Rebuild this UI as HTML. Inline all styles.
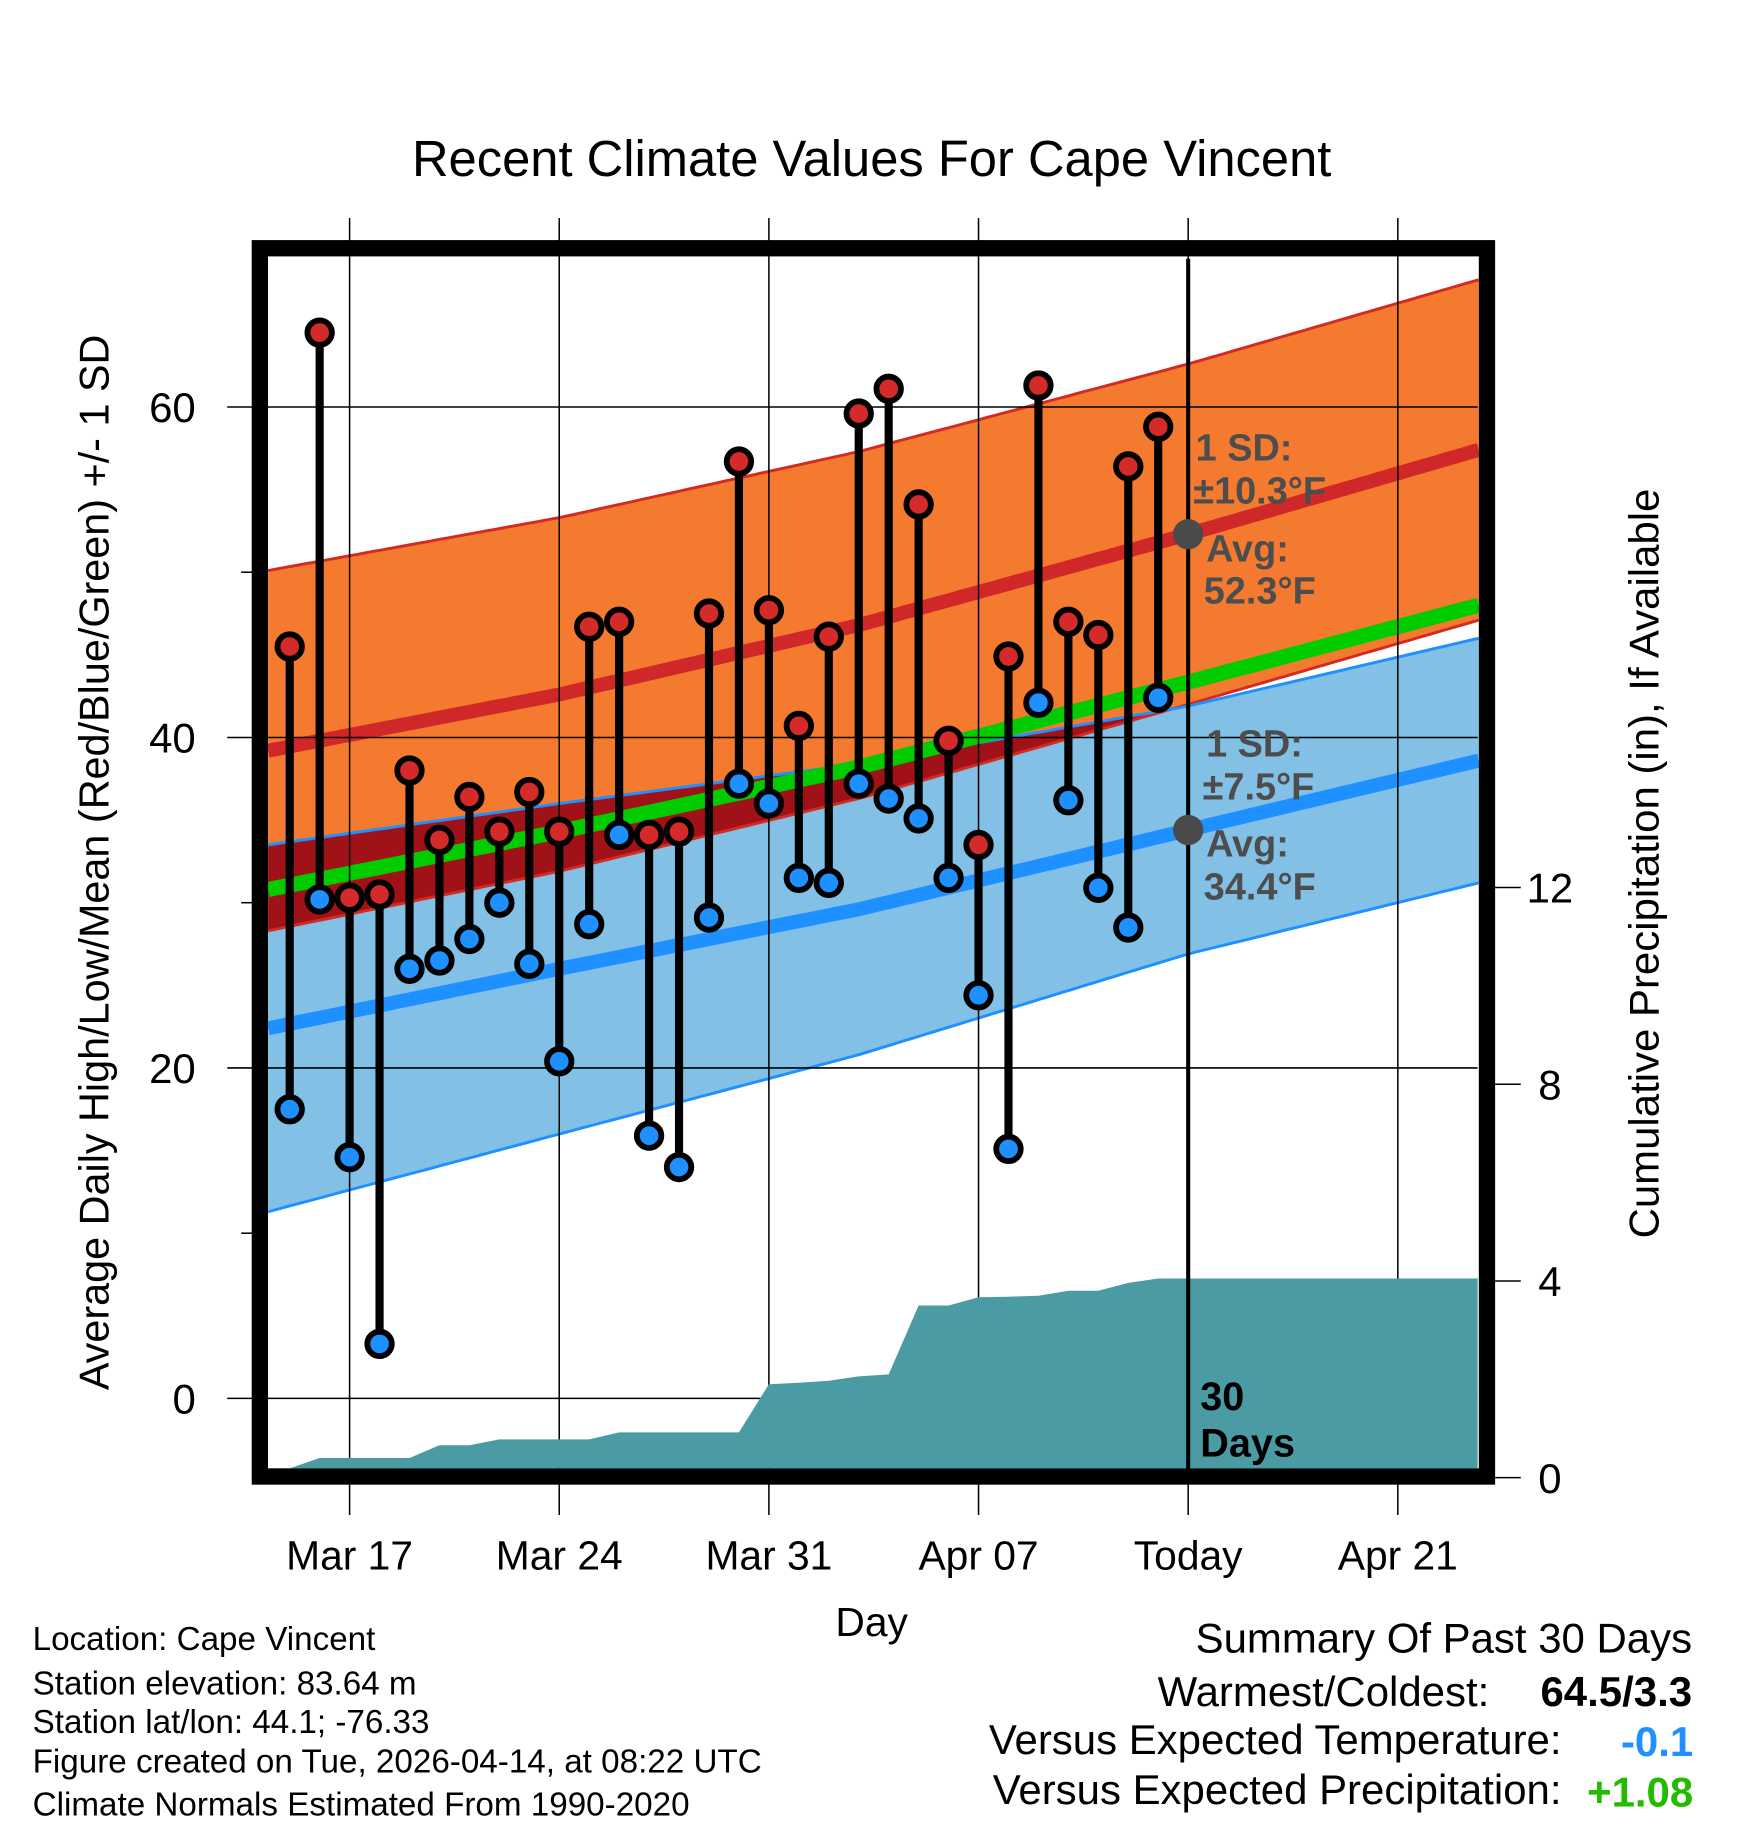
<!DOCTYPE html>
<html><head><meta charset="utf-8"><style>
html,body{margin:0;padding:0;background:#fff;}
svg{display:block;font-family:"Liberation Sans",Arial,sans-serif;}
</style></head><body>
<svg id="chart" width="1748" height="1828" viewBox="0 0 1500 1568.6" xmlns="http://www.w3.org/2000/svg">
<text x="748" y="151" font-size="43.5" text-anchor="middle">Recent Climate Values For Cape Vincent</text>
<g id="bands"></g>
<g id="grid"></g>
<g id="precip"></g>
<g id="series"></g>
<g id="frame"></g>
<text transform="translate(93,740) rotate(-90)" font-size="35.5" text-anchor="middle">Average Daily High/Low/Mean (Red/Blue/Green) +/- 1 SD</text>
<text transform="translate(1423,741) rotate(-90)" font-size="36" text-anchor="middle">Cumulative Precipitation (in), If Available</text>
<text x="748" y="1404" font-size="35" text-anchor="middle">Day</text>
<g font-size="28.5">
<text x="28" y="1416">Location: Cape Vincent</text>
<text x="28" y="1454">Station elevation: 83.64 m</text>
<text x="28" y="1487">Station lat/lon: 44.1; -76.33</text>
<text x="28" y="1521">Figure created on Tue, 2026-04-14, at 08:22 UTC</text>
<text x="28" y="1558">Climate Normals Estimated From 1990-2020</text>
</g>
<g font-size="36">
<text x="1452" y="1418" text-anchor="end">Summary Of Past 30 Days</text>
<text x="1278" y="1464" text-anchor="end">Warmest/Coldest:</text>
<text x="1452" y="1464" text-anchor="end" font-weight="bold">64.5/3.3</text>
<text x="1340" y="1505" text-anchor="end">Versus Expected Temperature:</text>
<text x="1453" y="1507" text-anchor="end" font-weight="bold" fill="#1e90ff">-0.1</text>
<text x="1340" y="1548" text-anchor="end">Versus Expected Precipitation:</text>
<text x="1453" y="1550" text-anchor="end" font-weight="bold" fill="#22bb00">+1.08</text>
</g>
</svg>
<script>
// ---- data ----
const dayLabels = ["Mar 17","Mar 24","Mar 31","Apr 07","Today","Apr 21"];
const dayTicks = [0,7,14,21,28,35];
const yTicks = [0,20,40,60];
const yMinor = [10,30,50];
const precipTicks = [0,4,8,12];
const highs = [45.5,64.5,30.3,30.5,38,33.8,36.4,34.3,36.7,34.3,46.7,47,34.1,34.3,47.5,56.7,47.7,40.7,46.1,59.6,61.1,54.1,39.8,33.5,44.9,61.3,47,46.2,56.4,58.8];
const lows = [17.5,30.2,14.6,3.3,26,26.5,27.8,30,26.3,20.4,28.7,34.1,15.9,14,29.1,37.2,36,31.5,31.2,37.2,36.3,35.1,31.5,24.4,15.1,42.1,36.2,30.9,28.5,42.4];
const precip = [0,0.4,0.4,0.4,0.4,0.66,0.66,0.78,0.78,0.78,0.78,0.92,0.92,0.92,0.92,0.92,1.9,1.93,1.97,2.06,2.1,3.5,3.5,3.67,3.68,3.7,3.8,3.8,3.96,4.05];
const normDays = [-2.72,7,17,28,37.7];
const hiMean = [39.2,42.6,46.8,52.3,57.4];
const hiSD = [10.9,10.7,10.5,10.3,10.3];
const loMean = [22.4,26.0,29.6,34.4,38.6];
const loSD = [11.1,10.0,8.8,7.5,7.4];
const firstDay = -2; // Mar 15 relative to Mar 17

// ---- scales ----
const PL=230, PR=1268, PT=222, PB=1260;
const X = d => 300 + 25.7*d;
const Y = t => 1200 - 14.18*t;
const YP = p => 1268 - 42.2*p;
const NS="http://www.w3.org/2000/svg";
function mk(tag, parent, attrs){const e=document.createElementNS(NS,tag);for(const k in attrs)e.setAttribute(k,attrs[k]);parent.appendChild(e);return e;}
function interp(arr,d){for(let i=0;i<normDays.length-1;i++){if(d<=normDays[i+1]||i==normDays.length-2){const f=(d-normDays[i])/(normDays[i+1]-normDays[i]);return arr[i]+f*(arr[i+1]-arr[i]);}}}
const samples=[];for(let d=normDays[0];d<normDays[4];d+=0.25)samples.push(d);samples.push(normDays[4]);
const fn = {
 hm:d=>interp(hiMean,d), hs:d=>interp(hiSD,d), lm:d=>interp(loMean,d), ls:d=>interp(loSD,d)
};
const hiUp=d=>fn.hm(d)+fn.hs(d), hiLo=d=>fn.hm(d)-fn.hs(d), loUp=d=>fn.lm(d)+fn.ls(d), loLo=d=>fn.lm(d)-fn.ls(d), mid=d=>(fn.hm(d)+fn.lm(d))/2;
const line=f=>samples.map(d=>X(d).toFixed(1)+","+Y(f(d)).toFixed(1)).join(" ");
const area=(f1,f2)=>samples.map(d=>X(d).toFixed(1)+","+Y(f1(d)).toFixed(1)).concat(samples.slice().reverse().map(d=>X(d).toFixed(1)+","+Y(f2(d)).toFixed(1))).join(" ");

const bands=document.getElementById('bands');
let e;
e=mk('polygon',bands,{points:area(loUp,loLo),fill:'#82c0e6'});

e=mk('polygon',bands,{points:area(hiUp,hiLo),fill:'#f47a30'});

e=mk('polygon',bands,{points:area(d=>Math.max(loUp(d),hiLo(d)),hiLo),fill:'#a01218'});

e=mk('polyline',bands,{points:line(hiUp),fill:'none',stroke:'#d42a20','stroke-width':2.5});

e=mk('polyline',bands,{points:line(hiLo),fill:'none',stroke:'#d42a20','stroke-width':2.5});

e=mk('polyline',bands,{points:line(loUp),fill:'none',stroke:'#1e90ff','stroke-width':2.5});

e=mk('polyline',bands,{points:line(loLo),fill:'none',stroke:'#1e90ff','stroke-width':2.5});

e=mk('polyline',bands,{points:line(fn.hm),fill:'none',stroke:'#d02828','stroke-width':12});

e=mk('polyline',bands,{points:line(fn.lm),fill:'none',stroke:'#1e90ff','stroke-width':12});

e=mk('polyline',bands,{points:line(mid),fill:'none',stroke:'#00cc00','stroke-width':13});


// grid & ticks
const grid=document.getElementById('grid');
dayTicks.forEach((d,i)=>{
 e=mk('line',grid,{x1:X(d),x2:X(d),y1:187,y2:1300,stroke:'#000','stroke-width':1.3});
 
 e=mk('text',grid,{x:X(d),y:1347,'font-size':35,'text-anchor':'middle'});e.textContent=dayLabels[i];
 
});
yTicks.forEach(t=>{
 e=mk('line',grid,{x1:195,x2:PR,y1:Y(t),y2:Y(t),stroke:'#000','stroke-width':1.3});
 
 e=mk('text',grid,{x:168,y:Y(t)+13,'font-size':36,'text-anchor':'end'});e.textContent=t;
 
});
yMinor.forEach(t=>{
 e=mk('line',grid,{x1:207,x2:218,y1:Y(t),y2:Y(t),stroke:'#000','stroke-width':1.3});
 
});
precipTicks.forEach(p=>{
 e=mk('line',grid,{x1:1283,x2:1305,y1:YP(p),y2:YP(p),stroke:'#000','stroke-width':1.3});
 
 e=mk('text',grid,{x:1330,y:YP(p)+13,'font-size':36,'text-anchor':'middle'});e.textContent=p;
 
});

// precip
const pg=document.getElementById('precip');
let pts=[PL+","+PB, X(firstDay+0.55)+","+YP(precip[0])];
precip.forEach((p,i)=>{const x=X(firstDay+i);pts.push(x+","+Math.min(YP(p),PB));});
pts.push(PR+","+YP(precip[precip.length-1]));pts.push(PR+","+PB);
e=mk('polygon',pg,{points:pts.join(" "),fill:'#4a9ba4'});


// today line + annotations
const sg=document.getElementById('series');
e=mk('line',sg,{x1:X(28),x2:X(28),y1:222,y2:1260,stroke:'#000','stroke-width':3.5});


highs.forEach((h,i)=>{
 const x=X(firstDay+i);
 e=mk('line',sg,{x1:x,x2:x,y1:Y(h),y2:Y(lows[i]),stroke:'#000','stroke-width':7});
 
});
highs.forEach((h,i)=>{
 const x=X(firstDay+i);
 e=mk('circle',sg,{cx:x,cy:Y(h),r:10.5,fill:'#d42a2a',stroke:'#000','stroke-width':5});
 
 e=mk('circle',sg,{cx:x,cy:Y(lows[i]),r:10.5,fill:'#1e90ff',stroke:'#000','stroke-width':5});
 
});
e=mk('circle',sg,{cx:X(28),cy:Y(fn.hm(28)),r:13,fill:'#4a4a4a'});

e=mk('circle',sg,{cx:X(28),cy:Y(fn.lm(28)),r:13,fill:'#4a4a4a'});

const ann=[["1 SD:",1026,395],["±10.3°F",1024,432],["Avg:",1035,482],["52.3°F",1033,518],["1 SD:",1035,649],["±7.5°F",1032,686],["Avg:",1035,735],["34.4°F",1033,772]];
ann.forEach(a=>{e=mk('text',sg,{x:a[1],y:a[2],'font-size':32.5,'font-weight':'bold',fill:'#4d4d4d'});e.textContent=a[0];
 });
e=mk('text',sg,{x:1030,y:1210,'font-size':34,'font-weight':'bold'});e.textContent="30";

e=mk('text',sg,{x:1030,y:1250,'font-size':34,'font-weight':'bold'});e.textContent="Days";


// frame
const fr=document.getElementById('frame');
e=mk('rect',fr,{x:223,y:213,width:1053,height:1054,fill:'none',stroke:'#000','stroke-width':14});

</script>
</body></html>
